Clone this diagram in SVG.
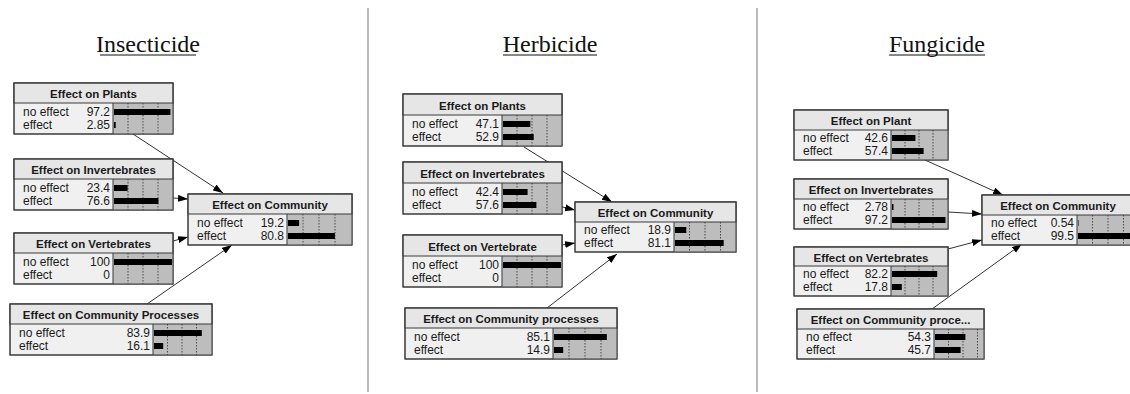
<svg xmlns="http://www.w3.org/2000/svg" width="1130" height="394" viewBox="0 0 1130 394">
  <style>
    .title { font-family: "Liberation Serif", "Times New Roman", serif; font-size: 24px; fill: #111; text-anchor: middle; }
    .uline { stroke: #111; stroke-width: 1.2; }
    .divider { stroke: #8a8a8a; stroke-width: 1.2; }
    .box { fill: #f0f0f0; stroke: #3a3a3a; stroke-width: 1; }
    .hdr { fill: #e6e6e6; stroke: #3a3a3a; stroke-width: 1; }
    .area { fill: #bdbdbd; }
    .grid { stroke: #4a4a4a; stroke-width: 1; stroke-dasharray: 1.5 1.5; }
    .bar { fill: #000; }
    .name { font-family: "Liberation Sans", Arial, sans-serif; font-size: 11.5px; font-weight: bold; fill: #1a1a1a; text-anchor: middle; }
    .lbl { font-family: "Liberation Sans", Arial, sans-serif; font-size: 12px; fill: #1a1a1a; }
    .val { font-family: "Liberation Sans", Arial, sans-serif; font-size: 12px; fill: #1a1a1a; text-anchor: end; }
    .link { stroke: #333; stroke-width: 1; fill: none; marker-end: url(#head); }
  </style>
  <defs>
    <marker id="head" markerUnits="userSpaceOnUse" markerWidth="11" markerHeight="8" refX="10" refY="3.5" orient="auto">
      <path d="M0,0 L10,3.5 L0,7 z" fill="#000"/>
    </marker>
    <clipPath id="clipFcp"><rect x="0" y="0" width="187" height="50"/></clipPath>
    <clipPath id="clipFcom"><rect x="0" y="0" width="161" height="50"/></clipPath>
  </defs>

  <rect width="1130" height="394" fill="#fff"/>

  <!-- panel titles and dividers -->
  <g id="titles">
    <text class="title" x="148" y="52">Insecticide</text>
    <line class="uline" x1="100" y1="55" x2="196" y2="55"/>
    <text class="title" x="550" y="52">Herbicide</text>
    <line class="uline" x1="503" y1="55" x2="597" y2="55"/>
    <text class="title" x="937" y="52">Fungicide</text>
    <line class="uline" x1="889" y1="55" x2="985" y2="55"/>
  </g>
  <g id="dividers">
    <line class="divider" x1="368" y1="8" x2="368" y2="392"/>
    <line class="divider" x1="757" y1="8" x2="757" y2="392"/>
  </g>

  <!-- connectors (drawn under the nodes) -->
  <g id="connectors">
    <line class="link" x1="133" y1="134" x2="223" y2="193"/>
    <line class="link" x1="173" y1="198" x2="188" y2="199"/>
    <line class="link" x1="173" y1="241" x2="188" y2="237"/>
    <line class="link" x1="147" y1="304" x2="232" y2="245"/>

    <line class="link" x1="524" y1="147" x2="612" y2="202"/>
    <line class="link" x1="562" y1="207" x2="575" y2="210"/>
    <line class="link" x1="562" y1="245" x2="575" y2="243"/>
    <line class="link" x1="547" y1="308" x2="617" y2="254"/>

    <line class="link" x1="925" y1="160" x2="1003" y2="195"/>
    <line class="link" x1="948" y1="212" x2="982" y2="214"/>
    <line class="link" x1="948" y1="249" x2="982" y2="240"/>
    <line class="link" x1="932" y1="309" x2="1022" y2="244"/>
  </g>

  <!-- ===== Insecticide ===== -->
  <g id="ins-plants" transform="translate(14,83)">
    <rect class="box" width="159" height="51"/>
    <rect class="area" x="99" y="20" width="60" height="31"/>
    <line class="grid" x1="114" y1="20" x2="114" y2="51"/><line class="grid" x1="129" y1="20" x2="129" y2="51"/><line class="grid" x1="144" y1="20" x2="144" y2="51"/>
    <rect class="bar" x="100" y="26" width="56.4" height="6"/>
    <rect class="bar" x="100" y="39" width="1.7" height="6"/>
    <rect class="hdr" width="159" height="20"/>
    <line x1="99" y1="20" x2="99" y2="51" stroke="#3a3a3a"/>
    <rect class="box" width="159" height="51" fill="none" style="fill:none"/>
    <text class="name" x="79.5" y="15">Effect on Plants</text>
    <text class="lbl" x="9" y="33">no effect</text><text class="val" x="96" y="33">97.2</text>
    <text class="lbl" x="9" y="46">effect</text><text class="val" x="96" y="46">2.85</text>
  </g>

  <g id="ins-invertebrates" transform="translate(14,159)">
    <rect class="box" width="159" height="51"/>
    <rect class="area" x="99" y="20" width="60" height="31"/>
    <line class="grid" x1="114" y1="20" x2="114" y2="51"/><line class="grid" x1="129" y1="20" x2="129" y2="51"/><line class="grid" x1="144" y1="20" x2="144" y2="51"/>
    <rect class="bar" x="100" y="26" width="13.6" height="6"/>
    <rect class="bar" x="100" y="39" width="44.4" height="6"/>
    <rect class="hdr" width="159" height="20"/>
    <line x1="99" y1="20" x2="99" y2="51" stroke="#3a3a3a"/>
    <rect class="box" width="159" height="51" style="fill:none"/>
    <text class="name" x="79.5" y="15">Effect on Invertebrates</text>
    <text class="lbl" x="9" y="33">no effect</text><text class="val" x="96" y="33">23.4</text>
    <text class="lbl" x="9" y="46">effect</text><text class="val" x="96" y="46">76.6</text>
  </g>

  <g id="ins-vertebrates" transform="translate(14,233)">
    <rect class="box" width="159" height="51"/>
    <rect class="area" x="99" y="20" width="60" height="31"/>
    <line class="grid" x1="114" y1="20" x2="114" y2="51"/><line class="grid" x1="129" y1="20" x2="129" y2="51"/><line class="grid" x1="144" y1="20" x2="144" y2="51"/>
    <rect class="bar" x="100" y="26" width="58" height="6"/>
    <rect class="hdr" width="159" height="20"/>
    <line x1="99" y1="20" x2="99" y2="51" stroke="#3a3a3a"/>
    <rect class="box" width="159" height="51" style="fill:none"/>
    <text class="name" x="79.5" y="15">Effect on Vertebrates</text>
    <text class="lbl" x="9" y="33">no effect</text><text class="val" x="96" y="33">100</text>
    <text class="lbl" x="9" y="46">effect</text><text class="val" x="96" y="46">0</text>
  </g>

  <g id="ins-processes" transform="translate(10,304)">
    <rect class="box" width="202" height="51"/>
    <rect class="area" x="143" y="20" width="59" height="31"/>
    <line class="grid" x1="157.5" y1="20" x2="157.5" y2="51"/><line class="grid" x1="172" y1="20" x2="172" y2="51"/><line class="grid" x1="186.5" y1="20" x2="186.5" y2="51"/>
    <rect class="bar" x="144" y="26" width="47.8" height="6"/>
    <rect class="bar" x="144" y="39" width="9.2" height="6"/>
    <rect class="hdr" width="202" height="20"/>
    <line x1="143" y1="20" x2="143" y2="51" stroke="#3a3a3a"/>
    <rect class="box" width="202" height="51" style="fill:none"/>
    <text class="name" x="101" y="15">Effect on Community Processes</text>
    <text class="lbl" x="9" y="33">no effect</text><text class="val" x="140" y="33">83.9</text>
    <text class="lbl" x="9" y="46">effect</text><text class="val" x="140" y="46">16.1</text>
  </g>

  <g id="ins-community" transform="translate(188,194)">
    <rect class="box" width="164" height="51"/>
    <rect class="area" x="99" y="20" width="65" height="31"/>
    <line class="grid" x1="115" y1="20" x2="115" y2="51"/><line class="grid" x1="131" y1="20" x2="131" y2="51"/><line class="grid" x1="147" y1="20" x2="147" y2="51"/>
    <rect class="bar" x="100" y="26" width="11.1" height="6"/>
    <rect class="bar" x="100" y="39" width="46.9" height="6"/>
    <rect class="hdr" width="164" height="20"/>
    <line x1="99" y1="20" x2="99" y2="51" stroke="#3a3a3a"/>
    <rect class="box" width="164" height="51" style="fill:none"/>
    <text class="name" x="82" y="15">Effect on Community</text>
    <text class="lbl" x="9" y="33">no effect</text><text class="val" x="96" y="33">19.2</text>
    <text class="lbl" x="9" y="46">effect</text><text class="val" x="96" y="46">80.8</text>
  </g>

  <!-- ===== Herbicide ===== -->
  <g id="her-plants" transform="translate(403,94)">
    <rect class="box" width="159" height="52"/>
    <rect class="area" x="99" y="21" width="60" height="31"/>
    <line class="grid" x1="114" y1="21" x2="114" y2="52"/><line class="grid" x1="129" y1="21" x2="129" y2="52"/><line class="grid" x1="144" y1="21" x2="144" y2="52"/>
    <rect class="bar" x="100" y="27" width="27.3" height="6"/>
    <rect class="bar" x="100" y="40" width="30.7" height="6"/>
    <rect class="hdr" width="159" height="21"/>
    <line x1="99" y1="21" x2="99" y2="52" stroke="#3a3a3a"/>
    <rect class="box" width="159" height="52" style="fill:none"/>
    <text class="name" x="79.5" y="15.5">Effect on Plants</text>
    <text class="lbl" x="9" y="34">no effect</text><text class="val" x="96" y="34">47.1</text>
    <text class="lbl" x="9" y="47">effect</text><text class="val" x="96" y="47">52.9</text>
  </g>

  <g id="her-invertebrates" transform="translate(403,162)">
    <rect class="box" width="159" height="52"/>
    <rect class="area" x="99" y="21" width="60" height="31"/>
    <line class="grid" x1="114" y1="21" x2="114" y2="52"/><line class="grid" x1="129" y1="21" x2="129" y2="52"/><line class="grid" x1="144" y1="21" x2="144" y2="52"/>
    <rect class="bar" x="100" y="27" width="24.6" height="6"/>
    <rect class="bar" x="100" y="40" width="33.4" height="6"/>
    <rect class="hdr" width="159" height="21"/>
    <line x1="99" y1="21" x2="99" y2="52" stroke="#3a3a3a"/>
    <rect class="box" width="159" height="52" style="fill:none"/>
    <text class="name" x="79.5" y="15.5">Effect on Invertebrates</text>
    <text class="lbl" x="9" y="34">no effect</text><text class="val" x="96" y="34">42.4</text>
    <text class="lbl" x="9" y="47">effect</text><text class="val" x="96" y="47">57.6</text>
  </g>

  <g id="her-vertebrate" transform="translate(403,235)">
    <rect class="box" width="159" height="52"/>
    <rect class="area" x="99" y="21" width="60" height="31"/>
    <line class="grid" x1="114" y1="21" x2="114" y2="52"/><line class="grid" x1="129" y1="21" x2="129" y2="52"/><line class="grid" x1="144" y1="21" x2="144" y2="52"/>
    <rect class="bar" x="100" y="27" width="58" height="6"/>
    <rect class="hdr" width="159" height="21"/>
    <line x1="99" y1="21" x2="99" y2="52" stroke="#3a3a3a"/>
    <rect class="box" width="159" height="52" style="fill:none"/>
    <text class="name" x="79.5" y="15.5">Effect on Vertebrate</text>
    <text class="lbl" x="9" y="34">no effect</text><text class="val" x="96" y="34">100</text>
    <text class="lbl" x="9" y="47">effect</text><text class="val" x="96" y="47">0</text>
  </g>

  <g id="her-processes" transform="translate(405,308)">
    <rect class="box" width="212" height="51"/>
    <rect class="area" x="148" y="20" width="64" height="31"/>
    <line class="grid" x1="164" y1="20" x2="164" y2="51"/><line class="grid" x1="180" y1="20" x2="180" y2="51"/><line class="grid" x1="196" y1="20" x2="196" y2="51"/>
    <rect class="bar" x="149" y="26" width="52.8" height="6"/>
    <rect class="bar" x="149" y="39" width="9.2" height="6"/>
    <rect class="hdr" width="212" height="20"/>
    <line x1="148" y1="20" x2="148" y2="51" stroke="#3a3a3a"/>
    <rect class="box" width="212" height="51" style="fill:none"/>
    <text class="name" x="106" y="15">Effect on Community processes</text>
    <text class="lbl" x="9" y="33">no effect</text><text class="val" x="145" y="33">85.1</text>
    <text class="lbl" x="9" y="46">effect</text><text class="val" x="145" y="46">14.9</text>
  </g>

  <g id="her-community" transform="translate(575,202)">
    <rect class="box" width="161" height="50"/>
    <rect class="area" x="99" y="20" width="62" height="30"/>
    <line class="grid" x1="114.5" y1="20" x2="114.5" y2="50"/><line class="grid" x1="130" y1="20" x2="130" y2="50"/><line class="grid" x1="145.5" y1="20" x2="145.5" y2="50"/>
    <rect class="bar" x="100" y="25" width="11.3" height="6"/>
    <rect class="bar" x="100" y="38" width="48.7" height="6"/>
    <rect class="hdr" width="161" height="20"/>
    <line x1="99" y1="20" x2="99" y2="50" stroke="#3a3a3a"/>
    <rect class="box" width="161" height="50" style="fill:none"/>
    <text class="name" x="80.5" y="15">Effect on Community</text>
    <text class="lbl" x="9" y="32">no effect</text><text class="val" x="96" y="32">18.9</text>
    <text class="lbl" x="9" y="45">effect</text><text class="val" x="96" y="45">81.1</text>
  </g>

  <!-- ===== Fungicide ===== -->
  <g id="fun-plant" transform="translate(794,110)">
    <rect class="box" width="154" height="50"/>
    <rect class="area" x="97" y="20" width="57" height="30"/>
    <line class="grid" x1="111" y1="20" x2="111" y2="50"/><line class="grid" x1="125" y1="20" x2="125" y2="50"/><line class="grid" x1="139" y1="20" x2="139" y2="50"/>
    <rect class="bar" x="98" y="25" width="23.4" height="6"/>
    <rect class="bar" x="98" y="38" width="31.6" height="6"/>
    <rect class="hdr" width="154" height="20"/>
    <line x1="97" y1="20" x2="97" y2="50" stroke="#3a3a3a"/>
    <rect class="box" width="154" height="50" style="fill:none"/>
    <text class="name" x="77" y="15">Effect on Plant</text>
    <text class="lbl" x="9" y="32">no effect</text><text class="val" x="94" y="32">42.6</text>
    <text class="lbl" x="9" y="45">effect</text><text class="val" x="94" y="45">57.4</text>
  </g>

  <g id="fun-invertebrates" transform="translate(794,179)">
    <rect class="box" width="154" height="50"/>
    <rect class="area" x="97" y="20" width="57" height="30"/>
    <line class="grid" x1="111" y1="20" x2="111" y2="50"/><line class="grid" x1="125" y1="20" x2="125" y2="50"/><line class="grid" x1="139" y1="20" x2="139" y2="50"/>
    <rect class="bar" x="98" y="25" width="1.5" height="6"/>
    <rect class="bar" x="98" y="38" width="53.5" height="6"/>
    <rect class="hdr" width="154" height="20"/>
    <line x1="97" y1="20" x2="97" y2="50" stroke="#3a3a3a"/>
    <rect class="box" width="154" height="50" style="fill:none"/>
    <text class="name" x="77" y="15">Effect on Invertebrates</text>
    <text class="lbl" x="9" y="32">no effect</text><text class="val" x="94" y="32">2.78</text>
    <text class="lbl" x="9" y="45">effect</text><text class="val" x="94" y="45">97.2</text>
  </g>

  <g id="fun-vertebrates" transform="translate(794,247)">
    <rect class="box" width="154" height="49"/>
    <rect class="area" x="97" y="19" width="57" height="30"/>
    <line class="grid" x1="111" y1="19" x2="111" y2="49"/><line class="grid" x1="125" y1="19" x2="125" y2="49"/><line class="grid" x1="139" y1="19" x2="139" y2="49"/>
    <rect class="bar" x="98" y="24" width="45.2" height="6"/>
    <rect class="bar" x="98" y="37" width="9.8" height="6"/>
    <rect class="hdr" width="154" height="19"/>
    <line x1="97" y1="19" x2="97" y2="49" stroke="#3a3a3a"/>
    <rect class="box" width="154" height="49" style="fill:none"/>
    <text class="name" x="77" y="14.5">Effect on Vertebrates</text>
    <text class="lbl" x="9" y="31">no effect</text><text class="val" x="94" y="31">82.2</text>
    <text class="lbl" x="9" y="44">effect</text><text class="val" x="94" y="44">17.8</text>
  </g>

  <g id="fun-processes" transform="translate(797,309)">
    <rect class="box" width="187" height="50"/>
    <g clip-path="url(#clipFcp)">
      <rect class="area" x="137" y="20" width="58" height="30"/>
      <line class="grid" x1="151.5" y1="20" x2="151.5" y2="50"/><line class="grid" x1="166" y1="20" x2="166" y2="50"/><line class="grid" x1="180.5" y1="20" x2="180.5" y2="50"/>
      <rect class="bar" x="138" y="25" width="30.4" height="6"/>
      <rect class="bar" x="138" y="38" width="25.6" height="6"/>
    </g>
    <rect class="hdr" width="187" height="20"/>
    <line x1="137" y1="20" x2="137" y2="50" stroke="#3a3a3a"/>
    <rect class="box" width="187" height="50" style="fill:none"/>
    <text class="name" x="93.5" y="15">Effect on Community proce...</text>
    <text class="lbl" x="9" y="32">no effect</text><text class="val" x="134" y="32">54.3</text>
    <text class="lbl" x="9" y="45">effect</text><text class="val" x="134" y="45">45.7</text>
  </g>

  <g id="fun-community" transform="translate(982,195)">
    <rect class="box" width="161" height="50"/>
    <rect class="area" x="95" y="20" width="66" height="30"/>
    <line class="grid" x1="110.5" y1="20" x2="110.5" y2="50"/><line class="grid" x1="126" y1="20" x2="126" y2="50"/><line class="grid" x1="141.5" y1="20" x2="141.5" y2="50"/>
    <rect class="bar" x="96" y="25" width="0.5" height="6"/>
    <rect class="bar" x="96" y="38" width="59.7" height="6"/>
    <rect class="hdr" width="161" height="20"/>
    <line x1="95" y1="20" x2="95" y2="50" stroke="#3a3a3a"/>
    <rect class="box" width="161" height="50" style="fill:none"/>
    <text class="name" x="76" y="15">Effect on Community</text>
    <text class="lbl" x="9" y="32">no effect</text><text class="val" x="92" y="32">0.54</text>
    <text class="lbl" x="9" y="45">effect</text><text class="val" x="92" y="45">99.5</text>
  </g>
</svg>
